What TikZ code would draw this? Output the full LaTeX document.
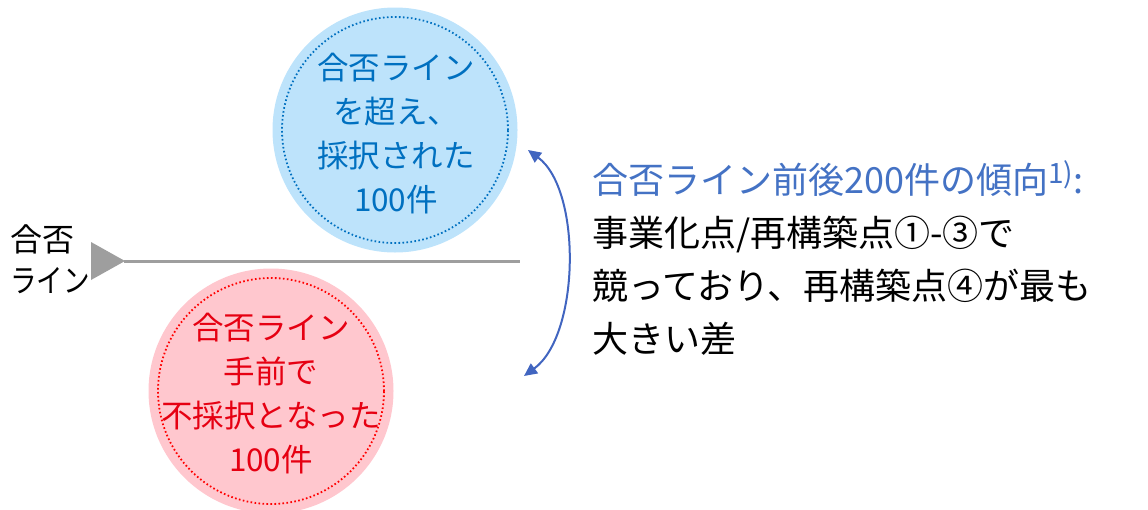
\documentclass[tikz,border=0pt]{standalone}
\usepackage{fontspec}
\setmainfont{Noto Sans CJK JP}
\newfontfamily\jpfont{Noto Sans CJK JP}
\usetikzlibrary{arrows.meta}
\definecolor{bluefill}{HTML}{BDE3FB}
\definecolor{bluedot}{HTML}{0070C0}
\definecolor{bluetext}{HTML}{0070C0}
\definecolor{redfill}{HTML}{FFC7CE}
\definecolor{reddot}{HTML}{FF0000}
\definecolor{redtext}{HTML}{E60012}
\definecolor{titleblue}{HTML}{4472C4}
\definecolor{arrowblue}{HTML}{4165C0}
\definecolor{linegray}{HTML}{9E9E9E}
\tikzset{
  disc/.style={circle, inner sep=0pt, minimum size=245pt},
  dotring/.style={circle, inner sep=0pt, minimum size=226pt, line width=1.8pt, dash pattern=on 1.6pt off 2.4pt},
  circtext/.style={align=center, inner sep=0pt, font=\jpfont\fontsize{31.5}{44}\selectfont},
}
\begin{document}
\begin{tikzpicture}[x=1pt,y=-1pt]
\useasboundingbox (0,0) rectangle (1148,509);
% blue circle
\node[disc, fill=bluefill] (bdisc) at (395,130) {};
\node[dotring, draw=bluedot] (bring) at (395,130) {};
\node[circtext, text=bluetext] (btext) at (396,134) {合否ライン\\を超え、\\採択された\\100件};
% red circle
\node[disc, fill=redfill] (rdisc) at (271,391) {};
\node[dotring, draw=reddot] (rring) at (271,391) {};
\node[circtext, text=redtext] (rtext) at (271,394) {合否ライン\\手前で\\不採択となった\\100件};
% pass line
\coordinate (lineend) at (520,261);
\coordinate (tip) at (124,261);
\fill[linegray] (91,242) -- (125,261) -- (91,280) -- cycle;
\draw[linegray, line width=3pt] (tip) -- (lineend);
\node[anchor=west, align=left, inner sep=0pt, font=\jpfont\fontsize{32}{41}\selectfont] (lbl) at (10,259) {合否\\\scalebox{0.83}[1]{ライン}};
% curved double arrow
\coordinate (atop) at (528,150);
\coordinate (abot) at (524,376);
\draw[arrowblue, line width=2pt, {Triangle[length=13pt,width=12pt]}-{Triangle[length=13pt,width=12pt]}]
  (atop) .. controls (582,190) and (580,335) .. (abot);
% right text
\node[anchor=north west, align=left, inner sep=0pt, font=\jpfont\fontsize{36}{53}\selectfont] (desc) at (592,160)
  {\textcolor{titleblue}{合否ライン前後200件の傾向\raisebox{10pt}{\fontsize{28}{28}\selectfont 1)}:}\\
   事業化点/再構築点①-③で\\
   競っており、再構築点④が最も\\
   大きい差};
\end{tikzpicture}
\end{document}
